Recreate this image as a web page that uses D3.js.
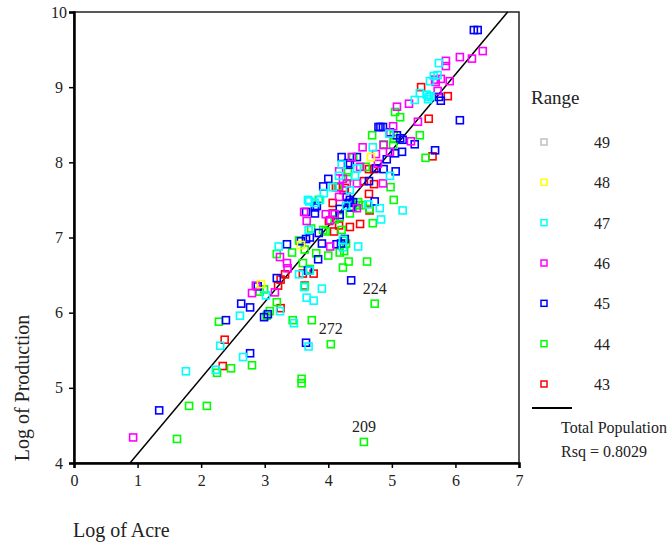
<!DOCTYPE html>
<html>
<head>
<meta charset="utf-8">
<script src="https://cdn.jsdelivr.net/npm/d3@7"></script>
<style>
  body { margin: 0; background: #fff; }
  text { font-family: "Liberation Serif", "DejaVu Serif", serif; fill: #222; }
</style>
</head>
<body>
<div id="chart"></div>
<script>
// ranges shown in legend (top to bottom) and their colours
var ranges = ["49", "48", "47", "46", "45", "44", "43"];
var rangeColors = ["#c0c0c0", "#ffff00", "#00ffff", "#ff00ff", "#0000ff", "#00ff00", "#ff0000"];

// points per range: [log of acre, log of production]
var range49 = [];
var range48 = [[2.94, 6.38], [4.67, 8.07], [3.57, 6.90]];
var range47 = [[1.76, 5.22], [2.23, 5.24], [2.66, 5.41], [2.30, 5.56], [2.61, 5.96], [3.02, 6.23],
  [3.24, 6.02], [3.22, 6.88], [3.54, 6.51], [3.62, 6.34], [3.90, 6.32], [3.66, 6.20], [3.77, 6.16],
  [3.46, 5.86], [3.69, 5.55], [4.83, 7.24], [4.47, 6.88], [3.70, 7.48], [3.69, 7.10], [4.23, 6.87],
  [4.70, 8.20], [4.21, 7.97], [4.45, 7.92], [4.17, 7.82], [4.42, 7.82], [4.07, 7.67], [3.93, 7.59],
  [4.34, 7.63], [3.68, 7.50], [4.28, 7.42], [4.63, 7.44], [4.81, 7.39], [4.97, 7.82], [5.17, 7.36],
  [4.96, 8.38], [5.74, 9.32], [5.66, 9.15], [5.72, 9.16], [5.60, 9.08], [5.44, 8.92], [5.36, 8.83],
  [5.55, 8.90], [5.58, 8.87], [5.61, 8.88], [5.57, 8.84], [3.87, 7.50], [3.79, 7.46], [3.71, 6.56],
  [4.23, 6.97]];
var range46 = [[0.93, 4.34], [2.80, 6.26], [2.86, 6.36], [3.16, 6.27], [3.24, 6.74], [3.35, 6.66],
  [3.36, 6.59], [4.03, 6.88], [4.03, 7.23], [3.96, 7.31], [4.10, 7.31], [3.62, 7.34], [3.66, 7.22],
  [4.86, 7.72], [4.54, 8.20], [4.87, 8.23], [4.37, 8.07], [4.75, 8.11], [4.50, 7.94], [4.78, 7.98],
  [4.17, 7.88], [4.45, 7.72], [4.17, 7.54], [4.45, 7.39], [5.41, 8.54], [5.30, 8.28], [5.02, 8.48],
  [4.97, 8.39], [4.97, 8.14], [6.43, 9.48], [6.26, 9.38], [6.07, 9.40], [5.85, 9.35], [5.85, 9.28],
  [5.91, 9.08], [5.77, 9.11], [5.68, 9.10], [5.69, 9.07], [5.72, 8.95], [5.27, 8.78], [5.08, 8.74],
  [4.23, 7.78], [4.17, 7.67], [4.29, 7.72]];
var range45 = [[1.34, 4.70], [2.77, 5.46], [2.39, 5.90], [2.63, 6.12], [2.77, 6.07], [2.99, 5.94],
  [3.05, 5.98], [2.89, 6.35], [3.19, 6.46], [3.35, 6.91], [3.57, 6.95], [3.65, 6.98], [3.68, 6.56],
  [3.65, 5.60], [4.36, 6.43], [3.84, 6.71], [4.20, 6.92], [4.13, 6.91], [4.26, 6.98], [3.90, 6.92],
  [3.65, 7.34], [3.79, 7.32], [3.79, 7.40], [3.82, 7.42], [3.85, 7.06], [4.73, 7.48], [4.79, 8.47],
  [4.82, 8.47], [4.86, 8.47], [4.21, 8.07], [4.45, 8.07], [4.31, 7.99], [4.34, 7.97], [4.75, 7.92],
  [4.87, 7.91], [4.64, 7.75], [4.00, 7.78], [3.92, 7.68], [4.34, 7.50], [4.18, 7.38], [6.29, 9.76],
  [6.35, 9.76], [5.74, 8.87], [5.77, 8.82], [6.07, 8.56], [5.36, 8.24], [5.68, 8.16], [5.08, 8.36],
  [5.13, 8.32], [5.17, 8.30], [4.97, 8.40], [5.05, 8.12], [5.16, 8.14], [4.92, 8.04], [5.06, 7.88],
  [4.29, 7.54], [4.39, 7.47], [4.32, 7.46], [4.36, 7.40], [4.18, 7.30], [3.71, 7.00]];
var range44 = [[1.62, 4.32], [1.81, 4.76], [2.09, 4.76], [2.25, 5.20], [2.47, 5.26], [2.80, 5.30],
  [2.28, 5.88], [3.03, 5.96], [3.08, 6.02], [2.92, 6.28], [2.99, 6.31], [3.19, 6.14], [3.19, 6.78],
  [3.43, 6.80], [3.54, 6.96], [3.60, 6.66], [3.71, 6.58], [3.63, 6.35], [3.44, 5.90], [3.74, 5.90],
  [4.04, 5.58], [3.58, 5.12], [3.58, 5.06], [4.73, 6.12], [4.56, 4.28], [4.23, 6.60], [4.32, 6.68],
  [4.61, 6.68], [4.70, 7.19], [5.03, 7.50], [4.98, 7.67], [4.00, 6.76], [4.18, 6.80], [4.25, 6.82],
  [3.81, 6.79], [3.63, 6.84], [3.85, 7.50], [3.73, 7.12], [3.92, 7.10], [3.96, 7.08], [4.21, 7.10],
  [4.25, 6.96], [4.28, 6.92], [4.69, 8.36], [4.39, 8.07], [4.59, 7.94], [4.31, 7.87], [4.31, 7.80],
  [4.15, 7.68], [4.47, 7.47], [4.48, 7.43], [4.65, 7.38], [5.13, 8.60], [5.05, 8.67], [5.44, 8.36],
  [5.53, 8.06], [4.87, 8.24], [5.02, 8.23], [5.03, 8.36], [5.03, 8.31], [4.34, 7.32], [4.39, 7.40],
  [4.54, 7.43], [4.10, 7.24], [4.18, 7.27]];
var range43 = [[2.37, 5.64], [2.34, 5.29], [3.25, 6.06], [3.21, 6.36], [3.25, 6.44], [3.32, 6.51],
  [3.60, 6.52], [3.77, 6.52], [3.63, 6.36], [4.01, 7.22], [4.07, 7.46], [4.07, 7.32], [4.26, 7.66],
  [4.12, 7.67], [4.24, 7.63], [4.64, 7.58], [4.65, 7.36], [4.34, 7.14], [4.50, 7.18], [4.17, 7.16],
  [4.09, 7.08], [4.56, 7.75], [4.72, 7.71], [4.64, 7.91], [4.72, 7.91], [5.58, 8.58], [5.64, 8.08],
  [5.46, 9.00], [5.88, 8.88]];

// labelled outlying cases
var caseIds = ["224", "272", "209"];
var caseX = [4.73, 4.04, 4.56];
var caseY = [6.12, 5.58, 4.28];

// fit line for total population
var fitIntercept = 3.11, fitSlope = 1.01;
var rsqText = "Rsq = 0.8029";

var xTicks = [0, 1, 2, 3, 4, 5, 6, 7];
var yTicks = [4, 5, 6, 7, 8, 9, 10];

var width = 671, height = 546;
var plotLeft = 74, plotRight = 519, plotTop = 12, plotBottom = 463;
var serif = "Liberation Serif";

var svg = d3.select("#chart").append("svg")
    .attr("width", width)
    .attr("height", height);

var x = d3.scaleLinear().domain([0, 7]).range([plotLeft, plotRight]);
var y = d3.scaleLinear().domain([4, 10]).range([plotBottom, plotTop]);

// frame
svg.append("rect")
    .attr("x", plotLeft).attr("y", plotTop)
    .attr("width", plotRight - plotLeft).attr("height", plotBottom - plotTop)
    .attr("fill", "none").attr("stroke", "#222").attr("stroke-width", 1.5);

var xAxis = svg.append("g")
    .attr("transform", "translate(0," + plotBottom + ")")
    .call(d3.axisBottom(x).tickValues(xTicks).tickSize(5).tickFormat(d3.format("d")));
xAxis.attr("font-family", serif).attr("font-size", 16);
xAxis.select(".domain").attr("stroke", "#000").attr("stroke-width", 2.5);
xAxis.selectAll(".tick line").attr("stroke-width", 1.5);
xAxis.selectAll(".tick text")
    .attr("y", 12).attr("dy", "0.71em")
    .style("font-family", serif).style("font-size", "16px");

var yAxis = svg.append("g")
    .attr("transform", "translate(" + plotLeft + ",0)")
    .call(d3.axisLeft(y).tickValues(yTicks).tickSize(5).tickFormat(d3.format("d")));
yAxis.attr("font-family", serif).attr("font-size", 16);
yAxis.select(".domain").attr("stroke", "#000").attr("stroke-width", 2.5);
yAxis.selectAll(".tick line").attr("stroke-width", 1.5);
yAxis.selectAll(".tick text")
    .attr("x", -15).attr("text-anchor", "middle")
    .style("font-family", serif).style("font-size", "16px");

// fit line, clipped to the plot area
var x0 = (4 - fitIntercept) / fitSlope, x1 = (10 - fitIntercept) / fitSlope;
svg.append("line")
    .attr("x1", x(x0)).attr("y1", y(fitIntercept + fitSlope * x0))
    .attr("x2", x(x1)).attr("y2", y(fitIntercept + fitSlope * x1))
    .attr("stroke", "#000").attr("stroke-width", 1.5);

var seriesData = [range43, range44, range45, range46, range47, range48, range49];
var seriesColors = rangeColors.slice().reverse();
var size = 7;

seriesData.forEach(function (pts, i) {
    svg.append("g").selectAll("rect")
        .data(pts)
        .enter().append("rect")
        .attr("x", function (d) { return x(d[0]) - size / 2; })
        .attr("y", function (d) { return y(d[1]) - size / 2; })
        .attr("width", size).attr("height", size)
        .attr("fill", "none")
        .attr("stroke", seriesColors[i])
        .attr("stroke-width", 1.6);
});

// case labels
svg.append("g").selectAll("text")
    .data(caseIds)
    .enter().append("text")
    .attr("x", function (d, i) { return x(caseX[i]); })
    .attr("y", function (d, i) { return y(caseY[i]) - 10; })
    .attr("text-anchor", "middle")
    .style("font-size", "16px")
    .text(function (d) { return d; });

// axis titles
svg.append("text")
    .attr("x", 73).attr("y", 537)
    .style("font-size", "20px")
    .text("Log of Acre");
svg.append("text")
    .attr("transform", "translate(29,388) rotate(-90)")
    .attr("text-anchor", "middle")
    .style("font-size", "20px")
    .text("Log of Production");

// legend
var legend = svg.append("g");
legend.append("text")
    .attr("x", 531).attr("y", 104)
    .style("font-size", "19px")
    .text("Range");

var row = d3.scalePoint().domain(ranges).range([142, 384]);
var item = legend.selectAll(".item")
    .data(ranges)
    .enter().append("g")
    .attr("class", "item")
    .attr("transform", function (d) { return "translate(0," + row(d) + ")"; });
item.append("rect")
    .attr("x", 541).attr("y", -3)
    .attr("width", 6).attr("height", 6)
    .attr("fill", "none")
    .attr("stroke", function (d, i) { return rangeColors[i]; })
    .attr("stroke-width", 1.5);
item.append("text")
    .attr("x", 594).attr("y", 6)
    .style("font-size", "16px")
    .text(function (d) { return d; });

legend.append("line")
    .attr("x1", 532).attr("x2", 572)
    .attr("y1", 408).attr("y2", 408)
    .attr("stroke", "#000").attr("stroke-width", 2);
legend.append("text")
    .attr("x", 561).attr("y", 433)
    .style("font-size", "16px")
    .text("Total Population");
legend.append("text")
    .attr("x", 561).attr("y", 457)
    .style("font-size", "16px")
    .text(rsqText);
</script>
</body>
</html>
